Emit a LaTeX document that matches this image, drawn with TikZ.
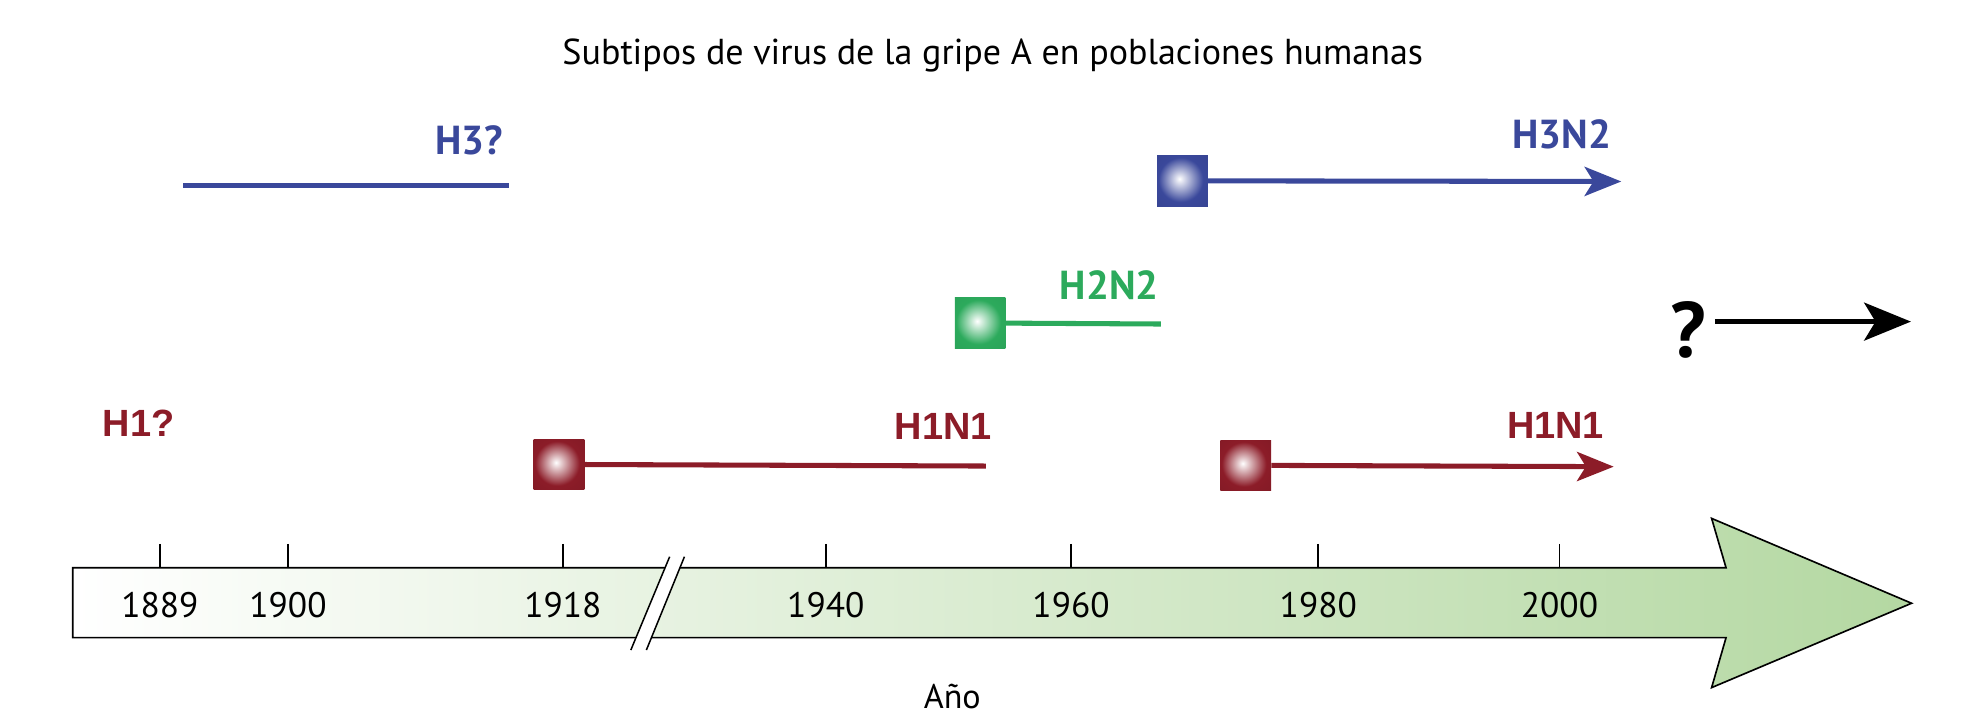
\documentclass[tikz,border=0pt]{standalone}
\usepackage{fontspec}
\setmainfont{PT Sans}
\newfontfamily\labfont{Liberation Sans}
\usetikzlibrary{arrows.meta}
\definecolor{cblue}{RGB}{58,72,155}
\definecolor{cgreen}{RGB}{44,170,92}
\definecolor{cred}{RGB}{140,28,40}
\definecolor{barend}{RGB}{180,216,162}
\pgfdeclareradialshading{sqshadered}{\pgfpoint{-3bp}{2bp}}{color(0bp)=(white); color(22bp)=(cred); color(50bp)=(cred!88!black)}
\pgfdeclareradialshading{sqshadegreen}{\pgfpoint{-3bp}{2bp}}{color(0bp)=(white); color(22bp)=(cgreen); color(50bp)=(cgreen!92!black)}
\pgfdeclareradialshading{sqshadeblue}{\pgfpoint{-3bp}{2bp}}{color(0bp)=(white); color(22bp)=(cblue); color(50bp)=(cblue!90!black)}
\tikzset{
  sqbox/.style={minimum width=40pt, minimum height=40pt, inner sep=0pt, draw=none},
  lineseg/.style={line width=4pt},
  arrowseg/.style={line width=4pt, -{Stealth[length=29pt,width=23pt,inset=7pt]}},
  lblbold/.style={font=\bfseries\fontsize{32}{34}\selectfont, anchor=base, inner sep=0pt},
  lblarial/.style={font=\labfont\bfseries\fontsize{30}{32}\selectfont, anchor=base, inner sep=0pt},
  yearlbl/.style={font=\fontsize{28}{30}\selectfont, inner sep=0pt, anchor=base},
  tick/.style={line width=1.3pt},
}
\begin{document}
\begin{tikzpicture}[x=1pt,y=-1pt]
\useasboundingbox (0,0) rectangle (1568,573);
% title
\node[font=\fontsize{28.5}{30}\selectfont, anchor=base, inner sep=0pt] (title) at (785,51) {Subtipos de virus de la gripe A en poblaciones humanas};

% timeline arrow
\path[left color=white, right color=barend, draw=black, line width=1.3pt, line join=miter]
  (57.5,448.9) -- (1364.8,448.9) -- (1353.4,409.9) -- (1511.5,477) -- (1353.4,543.7) -- (1364.8,504.2) -- (57.5,504.2) -- cycle;
% break
\fill[white] (529.5,440.2) -- (498.8,514) -- (511.1,514) -- (541.2,440.2) -- cycle;
\draw[line width=1.2pt] (529.5,440.2) -- (498.8,514);
\draw[line width=1.2pt] (541.2,440.2) -- (511.1,514);

% ticks and years
\foreach \xx/\yy in {126.4/1889, 227.7/1900, 445.1/1918, 653/1940, 846.9/1960, 1042.4/1980, 1233.1/2000}{
  \draw[tick] (\xx,430.1) -- (\xx,448.9);
  \node[yearlbl] (y\yy) at (\xx,488) {\yy};
}
\node[font=\fontsize{27}{29}\selectfont, anchor=base, inner sep=0pt] (ano) at (753,560) {Año};

% H3?
\coordinate (h3a) at (145,146.5);
\coordinate (h3b) at (402.5,146.5);
\draw[lineseg, cblue] (h3a) -- (h3b);
\node[lblbold, text=cblue] (h3lbl) at (371,121.8) {H3?};

% H3N2
\node[sqbox, shading=sqshadeblue] (sqb) at (935,143) {};
\coordinate (h3n2end) at (1282,143.5);
\draw[arrowseg, cblue] (sqb.east) -- (h3n2end);
\node[lblbold, text=cblue] (h3n2lbl) at (1235,117.3) {H3N2};

% H2N2
\node[sqbox, shading=sqshadegreen] (sqg) at (775,255.5) {};
\coordinate (h2n2end) at (918,256.2);
\draw[lineseg, cgreen] (sqg.east) -- (h2n2end);
\node[lblbold, text=cgreen] (h2n2lbl) at (877,236.7) {H2N2};

% ? arrow
\node[font=\bfseries\fontsize{62}{64}\selectfont, anchor=base, inner sep=0pt] (qm) at (1335,282.5) {?};
\coordinate (qa) at (1356,254.3);
\coordinate (qb) at (1511,254.3);
\draw[line width=3.8pt, -{Stealth[length=37pt,width=30pt,inset=9pt]}] (qa) -- (qb);

% H1?
\node[lblarial, text=cred] (h1lbl) at (109.5,345) {H1?};

% H1N1 (1918)
\node[sqbox, shading=sqshadered] (sqr1) at (442,367.3) {};
\coordinate (h1n1aend) at (779.6,368.5);
\draw[lineseg, cred] (sqr1.east) -- (h1n1aend);
\node[lblarial, text=cred] (h1n1a) at (746,347.9) {H1N1};

% H1N1 (1977)
\node[sqbox, shading=sqshadered] (sqr2) at (985,368) {};
\coordinate (h1n1bend) at (1276,369);
\draw[arrowseg, cred] (sqr2.east) -- (h1n1bend);
\node[lblarial, text=cred] (h1n1b) at (1230,346.5) {H1N1};
\end{tikzpicture}
\end{document}
